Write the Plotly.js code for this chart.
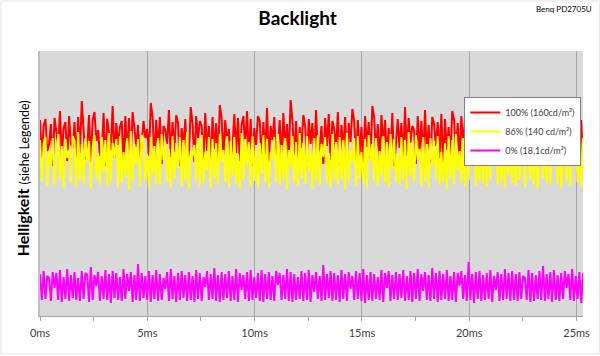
<!DOCTYPE html>
<html>
<head>
<meta charset="utf-8">
<script src="https://cdn.plot.ly/plotly-3.0.1.min.js"></script>
<style>html,body{margin:0;padding:0;background:#fff;}#chart{width:600px;height:356px;}</style>
</head>
<body>
<div id="chart"></div>
<script>
// Time span of the capture (ms) and tick labels
const timeSpanMs = 25.3;
const tickValues = [0, 5, 10, 15, 20, 25];
const tickLabels = ["0ms", "5ms", "10ms", "15ms", "20ms", "25ms"];

const seriesNames = ["100% (160cd/m²)", "86% (140 cd/m²)", "0% (18,1cd/m²)"];

// Brightness samples (arbitrary units)
const red100 = [
196,158,190,197,165,172,192,150,198,185,170,205,160,188,194,155,200,172,168,194,
152,199,163,215,190,157,168,201,154,196,204,175,186,160,162,203,150,197,183,166,
210,158,193,171,189,195,153,200,162,198,156,204,188,169,191,151,173,195,178,187,
160,213,199,155,196,166,199,152,190,186,172,206,159,194,164,201,193,150,188,170,
197,157,162,209,192,154,200,176,195,190,158,203,165,190,151,199,167,193,156,211,
198,160,196,173,187,152,169,202,163,198,155,191,200,169,205,158,197,150,188,171,
200,195,157,194,162,208,154,190,176,199,159,170,196,153,203,166,192,158,216,195,
161,195,150,189,168,201,190,155,197,172,193,157,206,163,168,190,152,198,170,202,
156,195,187,164,204,151,191,167,199,158,193,174,207,195,155,196,161,189,153,200,
169,194,157,210,199,162,192,154,201,171,196,158,188,163,203,150,172,197,168,193,
156,209,160,198,173,190,186,152,200,165,195,157,206,162,191,154,199,192,170,194,
158,202,151,197,166,189,159,205,196,163,193,155,200,172,196,158,211,161,175,190,
153,198,167,192,156,204,164,197,150,195,191,169,201,157,189,163,207,154,196,171,
193,159,199,152,210,166,191,180,158,203,162,194,155,198,168,192,151,205,160,197,
174,190,156,200,163,195,153,212,159,193,170,186,199,157,194,161,203,168,196,155
];

const yellow86 = [
176,134,172,179,130,165,150,178,131,160,182,137,170,128,177,158,166,133,180,175,
129,184,136,172,132,178,155,175,127,169,181,138,163,131,179,145,176,130,183,135,
173,158,177,129,180,133,164,139,178,126,185,135,172,152,177,130,181,172,136,162,
128,179,141,170,132,178,131,182,156,174,134,167,129,180,137,173,148,179,130,176,
135,184,127,165,160,171,136,178,130,181,133,164,146,179,128,177,138,173,131,182,
154,166,134,180,129,175,140,179,132,162,127,183,136,177,151,174,130,180,135,168,
128,173,142,181,133,177,129,164,157,179,134,182,131,171,137,178,126,166,149,180,
133,174,130,183,138,173,132,180,144,165,128,178,135,181,130,172,159,179,133,163,
129,182,136,174,131,179,137,176,127,183,134,166,153,178,130,180,138,164,132,177,
128,181,155,172,135,178,130,165,139,180,133,174,129,182,147,177,134,163,131,179,
136,176,127,184,140,174,133,181,156,167,130,179,135,172,128,178,150,175,137,180,
131,164,134,173,126,180,138,176,131,182,145,165,133,178,129,181,136,175,160,179,
130,166,135,172,132,178,129,183,137,164,154,180,131,177,134,174,128,182,142,167,
133,179,130,181,136,170,175,129,178,158,136,176,131,183,127,168,180,138,174,133,
181,131,173,150,179,132,177,128,165,182,135,178,130,175,155,180,134,171,129,178
];

const magenta0 = [
42,16,45,17,40,38,15,44,28,43,16,46,14,39,17,47,15,41,18,44,
16,38,15,45,17,43,41,14,49,16,41,30,44,15,40,17,46,16,42,13,
45,18,43,16,39,15,47,17,42,25,44,14,41,16,52,15,43,18,40,16,
45,14,41,17,46,15,42,16,38,27,44,15,47,17,40,14,43,16,45,18,
41,15,44,16,40,14,46,17,43,15,39,29,45,16,42,17,48,15,41,14,
44,16,42,18,45,15,40,16,47,14,43,26,41,17,44,15,46,16,39,18,
43,15,46,14,42,17,44,16,40,15,45,31,43,16,41,17,47,15,44,14,
42,16,39,17,45,15,43,16,46,14,41,24,44,17,40,15,51,16,42,18,
45,15,43,16,41,14,46,17,42,15,44,27,40,16,45,17,43,15,47,13,
41,16,44,15,42,17,39,16,46,14,43,28,45,15,41,17,44,16,42,18,
46,15,40,16,45,14,43,17,47,15,42,25,44,16,41,15,48,17,43,14,
45,16,42,17,46,15,40,16,44,14,43,30,45,17,41,15,54,16,42,13,
44,17,45,15,41,16,43,17,46,14,40,26,44,15,42,16,47,17,43,15,
45,16,42,15,44,17,40,38,16,46,14,43,15,41,17,45,16,50,15,42,
17,44,14,46,16,41,15,43,17,45,28,42,16,47,15,40,17,44,13,43
];

function timesFor(arr) {
  const n = arr.length;
  return arr.map((_, i) => i * timeSpanMs / (n - 1));
}

const colors = ["#ff0000", "#ffff00", "#ff00ff"];
const allSeries = [red100, yellow86, magenta0];

const traces = allSeries.map((vals, k) => ({
  type: "scatter",
  mode: "lines",
  x: timesFor(vals),
  y: vals,
  name: seriesNames[k],
  line: {color: colors[k], width: 2},
  hoverinfo: "skip"
}));

const layout = {
  width: 600,
  height: 356,
  margin: {l: 39.5, r: 17.3, t: 51, b: 40, pad: 0, autoexpand: false},
  paper_bgcolor: "#ffffff",
  plot_bgcolor: "#d9d9d9",
  font: {family: "Lato, 'Open Sans', sans-serif", color: "#404040"},
  title: {
    text: "<b>Backlight</b>",
    font: {family: "Lato, sans-serif", size: 19, color: "#000000"},
    xref: "container", x: 0.496, xanchor: "center",
    yref: "container", y: 0.949, yanchor: "middle"
  },
  xaxis: {
    range: [0, timeSpanMs],
    tickvals: tickValues,
    ticktext: tickLabels,
    ticks: "outside",
    ticklen: 4,
    tickcolor: "#a6a6a6",
    ticklabelstandoff: 3,
    showgrid: true,
    gridcolor: "#a6a6a6",
    gridwidth: 1,
    showline: true,
    linecolor: "#a6a6a6",
    linewidth: 1,
    zeroline: false,
    tickfont: {family: "Lato, sans-serif", size: 11, color: "#404040"},
    minor: {dtick: 2.5, tick0: 0, ticks: "outside", ticklen: 4, tickcolor: "#a6a6a6", showgrid: false},
    fixedrange: true
  },
  yaxis: {
    range: [0, 265],
    showticklabels: false,
    ticks: "",
    showgrid: false,
    zeroline: false,
    showline: true,
    linecolor: "#bfbfbf",
    linewidth: 2,
    fixedrange: true
  },
  showlegend: true,
  legend: {
    x: 0.997, xanchor: "right",
    y: 0.826, yanchor: "top",
    bgcolor: "#ffffff",
    bordercolor: "#808080",
    borderwidth: 1,
    font: {family: "Lato, sans-serif", size: 9, color: "#404040"},
    tracegroupgap: 0,
    itemwidth: 30
  },
  annotations: [
    {
      xref: "paper", yref: "paper",
      x: -0.032, y: 0.518,
      xanchor: "center", yanchor: "middle",
      textangle: -90,
      showarrow: false,
      text: "<b>Helligkeit</b> <span style='font-size:12.5px'>(siehe Legende)</span>",
      font: {family: "Lato, sans-serif", size: 16, color: "#000000"}
    },
    {
      xref: "paper", yref: "paper",
      x: 1.021, y: 1.16,
      xanchor: "right", yanchor: "middle",
      showarrow: false,
      text: "Benq PD2705U",
      font: {family: "Lato, sans-serif", size: 8, color: "#000000"}
    }
  ],
  shapes: [
    {
      type: "rect", xref: "paper", yref: "paper", layer: "above",
      x0: -0.0718, x1: 1.0308, y0: -0.1434, y1: 1.1887,
      line: {color: "#e3e3e3", width: 1}
    }
  ]
};

Plotly.newPlot("chart", traces, layout, {displayModeBar: false, staticPlot: true});
</script>
</body>
</html>
